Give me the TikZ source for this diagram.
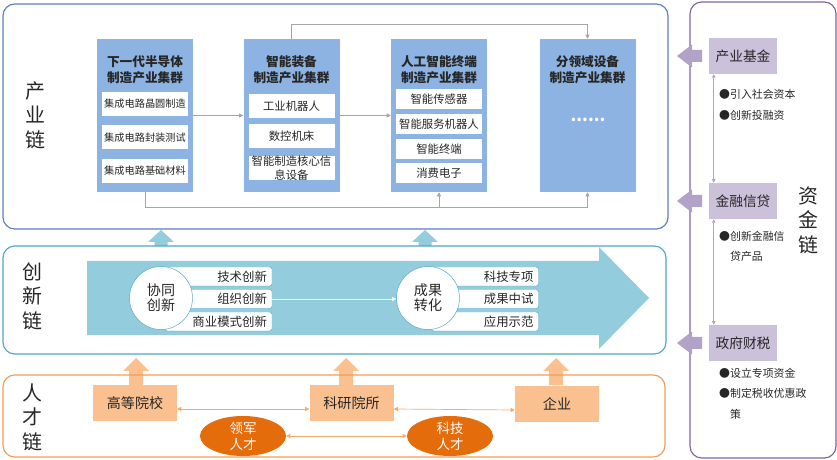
\documentclass[tikz,border=0pt]{standalone}
\usepackage{fontspec}
\setmainfont{Noto Sans CJK SC}
\usetikzlibrary{shapes.geometric,arrows.meta}

\definecolor{txt}{HTML}{262626}
\definecolor{indline}{HTML}{5B80B8}
\definecolor{clusterfill}{HTML}{8DB3E2}
\definecolor{innline}{HTML}{4FA6C4}
\definecolor{innfill}{HTML}{93CDDD}
\definecolor{talline}{HTML}{F79A55}
\definecolor{talfill}{HTML}{FAC08F}
\definecolor{talarrow}{HTML}{F9A86C}
\definecolor{leader}{HTML}{E46C0A}
\definecolor{capline}{HTML}{8064A2}
\definecolor{capfill}{HTML}{CCC1DA}
\definecolor{caparrow}{HTML}{B3A2C7}
\definecolor{glinecol}{HTML}{A6A6A6}

\begin{document}
\begin{tikzpicture}
  [x=0.03cm,y=-0.03cm,
   every node/.style={inner sep=0pt,text=txt},
   chainlabel/.style={align=center,font=\fontsize{17}{21}\selectfont},
   cluster/.style={fill=clusterfill,minimum width=2.88cm,minimum height=4.59cm},
   title/.style={align=center,font=\bfseries\fontsize{10.8}{13.6}\selectfont},
   item/.style={fill=white,minimum width=2.58cm,minimum height=0.72cm,align=center,font=\fontsize{9.7}{12}\selectfont},
   glink/.style={glinecol,line width=0.6pt,-{Triangle[length=3.5pt,width=3.5pt]}},
   tab/.style={fill=white,draw=innline,line width=0.4pt,rounded corners=2pt,minimum width=3.21cm,minimum height=0.57cm,
     text width=2.91cm,align=right,font=\fontsize{10.6}{12}\selectfont},
   hub/.style={circle,fill=white,draw=innline,line width=0.4pt,minimum size=1.89cm,align=center,font=\fontsize{12}{13}\selectfont},
   school/.style={fill=talfill,minimum width=2.52cm,minimum height=1.08cm,font=\fontsize{12}{14}\selectfont},
   talent/.style={ellipse,fill=leader,minimum width=2.58cm,minimum height=0.96cm,align=center,text=white,font=\fontsize{11.5}{13.6}\selectfont},
   tlink/.style={talarrow,line width=0.6pt,{Triangle[length=3.5pt,width=3.5pt]}-{Triangle[length=3.5pt,width=3.5pt]}},
   fund/.style={fill=capfill,minimum width=2.04cm,minimum height=1.08cm,font=\fontsize{11.7}{14}\selectfont},
   clink/.style={caparrow,line width=0.5pt,{Triangle[length=3pt,width=3pt]}-{Triangle[length=3pt,width=3pt]}},
   bullets/.style={anchor=west,align=left,font=\fontsize{9.3}{17.5}\selectfont}]
  \useasboundingbox (0,0) rectangle (837,460);

  % up arrows between the bands
  \foreach \x in {161,425}
    \fill[innfill] (\x-6.5,246) -- (\x-6.5,242) -- (\x-13,242) -- (\x,230) -- (\x+13,242) -- (\x+6.5,242) -- (\x+6.5,246) -- cycle;
  \foreach \x in {136,346,556}
    \fill[talfill] (\x-7,385) -- (\x-7,371) -- (\x-13,371) -- (\x,358) -- (\x+13,371) -- (\x+7,371) -- (\x+7,385) -- cycle;

  % frames
  \draw[indline,line width=1pt,rounded corners=10pt] (3,4) rectangle (668,229);
  \draw[innline,line width=1pt,rounded corners=10pt] (3,246) rectangle (666,354);
  \draw[talline,line width=1pt,rounded corners=10pt] (3,375) rectangle (665,457);
  \draw[capline,line width=1pt,rounded corners=10pt] (690,2) rectangle (836,458);

  \node[chainlabel] (l1) at (35,115) {产\\业\\链};
  \node[chainlabel] (l2) at (32,296) {创\\新\\链};
  \node[chainlabel] (l3) at (32,417) {人\\才\\链};
  \node[chainlabel] (l4) at (808,220) {资\\金\\链};

  % industry chain
  \node[cluster] (c1) at (145,115.5) {};
  \node[cluster] (c2) at (291.5,115.5) {};
  \node[cluster] (c3) at (439,115.5) {};
  \node[cluster] (c4) at (587.5,115.5) {};
  \node[title] (c1t) at (145,70) {下一代半导体\\制造产业集群};
  \node[title] (c2t) at (291.5,70) {智能装备\\制造产业集群};
  \node[title] (c3t) at (439,70) {人工智能终端\\制造产业集群};
  \node[title] (c4t) at (587.5,70) {分领域设备\\制造产业集群};
  \node[text=white,font=\bfseries\fontsize{14}{14}\selectfont] (dots) at (588,120) {......};

  \node[item,font=\fontsize{8.7}{11}\selectfont] (a1) at (145,104) {集成电路晶圆制造};
  \node[item,font=\fontsize{8.7}{11}\selectfont] (a2) at (145,137.5) {集成电路封装测试};
  \node[item,font=\fontsize{8.7}{11}\selectfont] (a3) at (145,171) {集成电路基础材料};
  \node[item] (b1) at (291.5,106) {工业机器人};
  \node[item] (b2) at (291.5,136) {数控机床};
  \node[item] (b3) at (291.5,168) {智能制造核心信\\息设备};
  \node[item,minimum height=0.6cm] (d1) at (439,99.5) {智能传感器};
  \node[item,minimum height=0.6cm] (d2) at (439,124.5) {智能服务机器人};
  \node[item,minimum height=0.6cm] (d3) at (439,149) {智能终端};
  \node[item,minimum height=0.6cm] (d4) at (439,173.5) {消费电子};

  \coordinate (high) at (0,24);
  \coordinate (low) at (0,207);
  \foreach \from/\to in {c1/c2,c2/c3}
    \draw[glink] (\from) -- (\to);
  \draw[glink] (c2.north) -- (c2.north |- high) -| (c4.north);
  \draw[glinecol,line width=0.6pt] (c1.south) -- (c1.south |- low) -- (c4.south |- low);
  \foreach \to in {c3,c4}
    \draw[glink] (\to.south |- low) -- (\to.south);

  % innovation chain
  \fill[innfill] (87,261) -- (599,261) -- (599,247) -- (649,298) -- (599,349) -- (599,335) -- (87,335) -- cycle;
  \node[tab] (t1) at (218.5,276.5) {技术创新};
  \node[tab] (t2) at (218.5,299) {组织创新};
  \node[tab] (t3) at (218.5,321.5) {商业模式创新};
  \node[tab] (s1) at (485,276.5) {科技专项};
  \node[tab] (s2) at (485,299) {成果中试};
  \node[tab] (s3) at (485,321.5) {应用示范};
  \node[hub] (h1) at (161,298) {协同\\创新};
  \node[hub] (h2) at (428,298) {成果\\转化};
  \draw[white,line width=0.6pt,-{Triangle[length=3.5pt,width=3.5pt]}] (t2.east) -- (t2.east -| h2.west);

  % talent chain
  \node[school] (u1) at (135,403) {高等院校};
  \node[school] (u2) at (351.5,403) {科研院所};
  \node[school] (u3) at (557,404) {企业};
  \node[talent] (e1) at (243,436) {领军\\人才};
  \node[talent] (e2) at (450,436) {科技\\人才};
  \foreach \from/\to in {u1/u2,u2/u3}
    \draw[tlink] ([yshift=-0.18cm]\from.east) -- ([yshift=-0.18cm]\to.west);
  \draw[tlink] (e1.east) -- (e2.west);

  % capital chain
  \foreach \y in {56,201,343}
    \fill[caparrow] (702,\y-6) -- (692,\y-6) -- (692,\y-11.5) -- (677,\y) -- (692,\y+11.5) -- (692,\y+6) -- (702,\y+6) -- cycle;
  \node[fund] (f1) at (743,56) {产业基金};
  \node[fund] (f2) at (743,201) {金融信贷};
  \node[fund] (f3) at (743,343) {政府财税};
  \foreach \from/\to in {f1/f2,f2/f3}
    \draw[clink] ([xshift=0.15cm]\from.south west) -- ([xshift=0.15cm]\to.north west);
  \node[bullets] (n1) at (719,105) {●引入社会资本\\●创新投融资};
  \node[bullets] (n2) at (719,246.5) {●创新金融信\\\phantom{●}贷产品};
  \node[bullets] (n3) at (719,393.5) {●设立专项资金\\●制定税收优惠政\\\phantom{●}策};
\end{tikzpicture}
\end{document}
